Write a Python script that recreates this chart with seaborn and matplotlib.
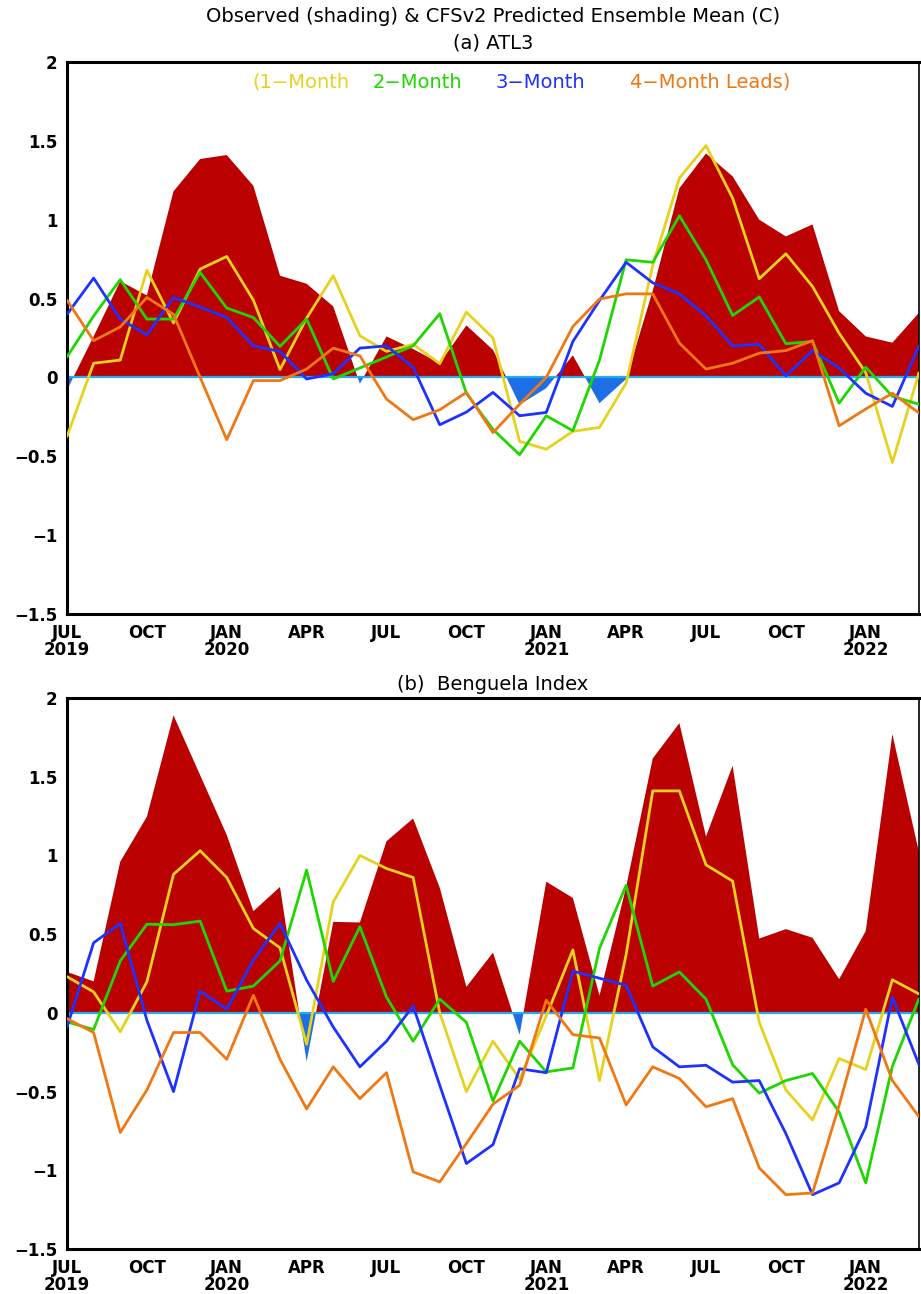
import numpy as np
import pandas as pd
import matplotlib
matplotlib.use("Agg")
import matplotlib.pyplot as plt
import seaborn as sns

sns.set_style("white")
plt.rcParams['font.family'] = ['Liberation Sans Narrow', 'DejaVu Sans']
plt.rcParams['text.color'] = 'black'

# ---------------- data ----------------
months = list(range(33))  # JUL 2019 ... MAR 2022
tick_pos = [0, 3, 6, 9, 12, 15, 18, 21, 24, 27, 30]
tick_labels = ["JUL\n2019", "OCT", "JAN\n2020", "APR", "JUL", "OCT",
               "JAN\n2021", "APR", "JUL", "OCT", "JAN\n2022"]
ytick_vals = [-1.5, -1, -0.5, 0, 0.5, 1, 1.5, 2]
ytick_labels = ["\u22121.5", "\u22121", "\u22120.5", "0", "0.5", "1", "1.5", "2"]

# (a) ATL3
obs_a = [-0.08, 0.26, 0.61, 0.52, 1.18, 1.385, 1.41, 1.215, 0.645, 0.594, 0.45,
         -0.04, 0.26, 0.18, 0.09, 0.33, 0.175, -0.173, -0.068, 0.14, -0.163,
         -0.01, 0.55, 1.2, 1.42, 1.275, 1.0, 0.894, 0.97, 0.42, 0.26, 0.22, 0.41]
lead1_a = [-0.374, 0.09, 0.11, 0.68, 0.345, 0.687, 0.767, 0.49, 0.05, 0.376, 0.645,
           0.264, 0.165, 0.21, 0.087, 0.414, 0.25, -0.406, -0.455, -0.342, -0.317,
           -0.036, 0.71, 1.264, 1.47, 1.137, 0.626, 0.784, 0.577, 0.28, 0.03, -0.54, 0.03]
lead2_a = [0.13, 0.39, 0.62, 0.37, 0.37, 0.666, 0.44, 0.38, 0.197, 0.37, -0.01,
           0.06, 0.13, 0.2, 0.404, -0.1, -0.33, -0.49, -0.243, -0.338, 0.11,
           0.746, 0.73, 1.025, 0.746, 0.393, 0.51, 0.214, 0.228, -0.163, 0.065, -0.12, -0.17]
lead3_a = [0.40, 0.63, 0.37, 0.27, 0.507, 0.446, 0.38, 0.2, 0.165, -0.01, 0.023,
           0.186, 0.2, 0.065, -0.3, -0.22, -0.095, -0.243, -0.222, 0.228, 0.488,
           0.73, 0.6, 0.53, 0.39, 0.2, 0.21, 0.01, 0.17, 0.06, -0.1, -0.184, 0.2]
lead4_a = [0.49, 0.233, 0.32, 0.507, 0.40, 0.0, -0.395, -0.02, -0.02, 0.053, 0.186,
           0.137, -0.137, -0.268, -0.205, -0.095, -0.35, -0.17, 0.0, 0.323, 0.497,
           0.53, 0.53, 0.218, 0.053, 0.09, 0.154, 0.17, 0.233, -0.307, -0.2, -0.1, -0.226]

# (b) Benguela Index
obs_b = [0.26, 0.2, 0.96, 1.246, 1.89, 1.51, 1.13, 0.646, 0.80, -0.31, 0.578,
         0.574, 1.09, 1.235, 0.795, 0.165, 0.383, -0.14, 0.833, 0.73, 0.11,
         0.8, 1.616, 1.84, 1.12, 1.57, 0.472, 0.532, 0.477, 0.214, 0.52, 1.77, 1.02]
lead1_b = [0.23, 0.133, -0.12, 0.197, 0.88, 1.03, 0.86, 0.536, 0.413, -0.2, 0.705,
           1.0, 0.917, 0.86, 0.0, -0.5, -0.18, -0.42, -0.02, 0.4, -0.43,
           0.37, 1.41, 1.41, 0.94, 0.837, -0.06, -0.49, -0.68, -0.29, -0.36, 0.21, 0.12]
lead2_b = [-0.057, -0.106, 0.33, 0.563, 0.56, 0.583, 0.138, 0.17, 0.33, 0.907, 0.2,
           0.547, 0.1, -0.18, 0.087, -0.06, -0.56, -0.18, -0.375, -0.35, 0.41,
           0.81, 0.17, 0.26, 0.087, -0.33, -0.51, -0.43, -0.385, -0.63, -1.08, -0.34, 0.09]
lead3_b = [-0.09, 0.445, 0.568, -0.047, -0.5, 0.138, 0.023, 0.335, 0.568, 0.208, -0.09,
           -0.343, -0.18, 0.044, -0.46, -0.957, -0.837, -0.355, -0.38, 0.265, 0.22,
           0.175, -0.216, -0.343, -0.333, -0.44, -0.43, -0.767, -1.155, -1.08, -0.725, 0.1, -0.33]
lead4_b = [-0.036, -0.125, -0.76, -0.49, -0.125, -0.125, -0.295, 0.112, -0.295, -0.61, -0.343,
           -0.545, -0.38, -1.01, -1.074, -0.83, -0.58, -0.46, 0.08, -0.138, -0.16,
           -0.585, -0.343, -0.417, -0.597, -0.545, -0.985, -1.155, -1.144, -0.587, 0.023, -0.43, -0.66]

lead_names = ["(1\u2212Month", "2\u2212Month", "3\u2212Month", "4\u2212Month Leads)"]
lead_colors = ["#E6D21E", "#1ED700", "#1E32FF", "#F07814"]
pos_color = "#BB0000"
neg_color = "#1E6EE6"
zero_color = "#28AAF0"

# ---------------- figure ----------------
W, H = 921, 1294
fig = plt.figure(figsize=(W / 100, H / 100), dpi=100)

def axes_px(left, right, top, bottom):
    return fig.add_axes([left / W, 1 - bottom / H, (right - left) / W, (bottom - top) / H])

ax_a = axes_px(67, 919, 62, 614)
ax_b = axes_px(67, 919, 698, 1249)

def draw_panel(ax, obs, leads):
    x = np.array(months, dtype=float)
    o = np.array(obs)
    ax.fill_between(x, 0, o, where=o >= 0, interpolate=True, color=pos_color,
                    linewidth=0, zorder=1)
    ax.fill_between(x, 0, o, where=o <= 0, interpolate=True, color=neg_color,
                    linewidth=0, zorder=1)
    ax.axhline(0, color=zero_color, lw=1.6, zorder=2)
    for vals, col in zip(leads, lead_colors):
        df = pd.DataFrame({"month": months, "value": vals})
        sns.lineplot(data=df, x="month", y="value", ax=ax, color=col,
                     linewidth=2.0, zorder=3)
    ax.set_xlim(0, 32)
    ax.set_ylim(-1.5, 2)
    ax.set_xticks(tick_pos)
    ax.set_xticklabels(tick_labels, fontsize=12, fontweight="bold", linespacing=0.95)
    ax.set_yticks(ytick_vals)
    ax.set_yticklabels(ytick_labels, fontsize=12, fontweight="bold")
    ax.set_xlabel("")
    ax.set_ylabel("")
    ax.tick_params(axis="both", direction="out", length=5, width=1.2, pad=2,
                   color="black", labelcolor="black")
    for s in ax.spines.values():
        s.set_visible(True)
        s.set_color("black")
        s.set_linewidth(1.2)
    ax.spines["left"].set_linewidth(2.2)
    ax.spines["bottom"].set_linewidth(2.2)
    ax.spines["top"].set_linewidth(2.2)

draw_panel(ax_a, obs_a, [lead1_a, lead2_a, lead3_a, lead4_a])
draw_panel(ax_b, obs_b, [lead1_b, lead2_b, lead3_b, lead4_b])

# titles
fig.text(493 / W, 1 - 17 / H, "Observed (shading) & CFSv2 Predicted Ensemble Mean (C)",
         ha="center", va="center", fontsize=14, color="black")
fig.text(493 / W, 1 - 43 / H, "(a) ATL3", ha="center", va="center", fontsize=14,
         color="black")
fig.text(493 / W, 1 - 684 / H, "(b)  Benguela Index", ha="center", va="center",
         fontsize=14, color="black")

# legend text inside panel (a)
legend_x = [252, 373, 495, 630]
for name, col, xp in zip(lead_names, lead_colors, legend_x):
    fig.text(xp / W, 1 - 82 / H, name, ha="left", va="center", fontsize=14, color=col)

fig.savefig("out.png", dpi=100)
